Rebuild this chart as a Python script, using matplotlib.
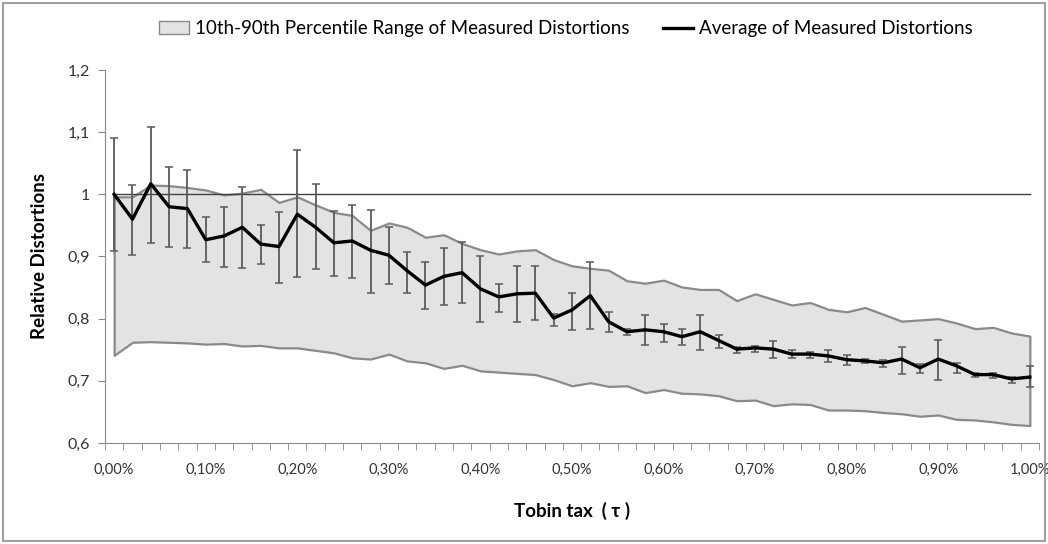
import numpy as np
import matplotlib.pyplot as plt
from matplotlib.patches import Patch, Rectangle
from matplotlib.lines import Line2D

plt.rcParams['font.family'] = ['Lato', 'DejaVu Sans']

# Tobin tax levels in percent (categories 0,00% .. 1,00%)
tax = [i * 0.02 for i in range(51)]

# average of measured distortions
mean = [1.000, 0.960, 1.017, 0.980, 0.977, 0.927, 0.933, 0.947, 0.920, 0.916,
        0.968, 0.947, 0.922, 0.925, 0.910, 0.902, 0.877, 0.854, 0.868, 0.874,
        0.848, 0.835, 0.840, 0.841, 0.801, 0.814, 0.837, 0.795, 0.779, 0.782,
        0.779, 0.771, 0.779, 0.765, 0.751, 0.753, 0.751, 0.743, 0.743, 0.740,
        0.734, 0.732, 0.729, 0.735, 0.721, 0.735, 0.724, 0.710, 0.710, 0.703,
        0.706]

# error bar ends
err_hi = [1.091, 1.015, 1.109, 1.044, 1.039, 0.963, 0.980, 1.011, 0.950, 0.972,
          1.071, 1.016, 0.973, 0.983, 0.975, 0.947, 0.907, 0.891, 0.914, 0.923,
          0.901, 0.856, 0.884, 0.884, 0.808, 0.842, 0.891, 0.810, 0.784, 0.806,
          0.792, 0.784, 0.806, 0.774, 0.755, 0.756, 0.764, 0.749, 0.747, 0.750,
          0.741, 0.735, 0.733, 0.755, 0.727, 0.765, 0.729, 0.713, 0.713, 0.706,
          0.724]
err_lo = [0.909, 0.903, 0.922, 0.916, 0.913, 0.891, 0.883, 0.881, 0.888, 0.858,
          0.867, 0.880, 0.869, 0.865, 0.841, 0.855, 0.841, 0.815, 0.822, 0.825,
          0.794, 0.810, 0.794, 0.798, 0.788, 0.782, 0.783, 0.779, 0.773, 0.757,
          0.763, 0.757, 0.750, 0.753, 0.745, 0.747, 0.736, 0.736, 0.737, 0.730,
          0.726, 0.728, 0.723, 0.711, 0.712, 0.701, 0.713, 0.706, 0.704, 0.697,
          0.690]

# 90th and 10th percentiles
upper = [0.996, 0.996, 1.015, 1.014, 1.011, 1.007, 0.999, 1.002, 1.008, 0.987,
         0.996, 0.983, 0.971, 0.966, 0.942, 0.954, 0.947, 0.931, 0.935, 0.921,
         0.911, 0.904, 0.909, 0.911, 0.895, 0.885, 0.881, 0.878, 0.861, 0.857,
         0.862, 0.851, 0.847, 0.847, 0.829, 0.840, 0.831, 0.822, 0.826, 0.815,
         0.811, 0.818, 0.807, 0.796, 0.798, 0.800, 0.793, 0.784, 0.786, 0.777,
         0.772]
lower = [0.741, 0.762, 0.763, 0.762, 0.761, 0.759, 0.760, 0.756, 0.757, 0.753,
         0.753, 0.749, 0.745, 0.737, 0.735, 0.743, 0.732, 0.729, 0.720, 0.725,
         0.716, 0.714, 0.712, 0.710, 0.702, 0.692, 0.697, 0.691, 0.692, 0.681,
         0.686, 0.680, 0.679, 0.676, 0.668, 0.669, 0.660, 0.663, 0.662, 0.653,
         0.653, 0.652, 0.649, 0.647, 0.643, 0.645, 0.638, 0.637, 0.634, 0.630,
         0.628]

baseline = 1.0
x_labels = [f'{t:.2f}%'.replace('.', ',') for t in tax]
y_ticks = [0.6, 0.7, 0.8, 0.9, 1.0, 1.1, 1.2]
y_labels = ['0,6', '0,7', '0,8', '0,9', '1', '1,1', '1,2']

x = np.arange(len(tax))
mean = np.array(mean)

fig = plt.figure(figsize=(10.48, 5.44), dpi=100)
ax = fig.add_axes([0.1002, 0.1857, 0.8912, 0.6856])

band_fill = '#e3e3e3'
band_edge = '#8a8a8a'
ax.fill_between(x, lower, upper, facecolor=band_fill, edgecolor=band_edge,
                linewidth=1.6, zorder=1)
ax.plot(x, [baseline] * len(x), color='#404040', linewidth=1.0, zorder=2)
ax.errorbar(x, mean, yerr=[mean - np.array(err_lo), np.array(err_hi) - mean],
            fmt='none', ecolor='#5a5a5a', elinewidth=1.3, capsize=3.2,
            capthick=1.1, zorder=3)
ax.plot(x, mean, color='black', linewidth=2.4, zorder=4)

ax.set_xlim(-0.5, len(x) - 0.5)
ax.set_ylim(0.6, 1.2)
ax.set_yticks(y_ticks)
ax.set_yticklabels(y_labels, fontsize=11.5, color='#333333')
major = list(range(0, len(x), 5))
ax.set_xticks(major)
ax.set_xticklabels([x_labels[i] for i in major], fontsize=10.5, color='#333333')
ax.set_xticks(np.arange(-0.5, len(x), 1), minor=True)
ax.tick_params(axis='x', which='major', length=0, pad=14)
ax.tick_params(axis='x', which='minor', length=5, color='#888888')
ax.tick_params(axis='y', length=5, color='#888888', pad=6)

for side in ['top', 'right']:
    ax.spines[side].set_visible(False)
for side in ['left', 'bottom']:
    ax.spines[side].set_color('#888888')

ax.set_xlabel('Tobin tax  ( τ )', fontsize=13.5, fontweight='bold', labelpad=18)
ax.set_ylabel('Relative Distortions', fontsize=13.5, fontweight='bold', labelpad=14)

handles = [Patch(facecolor=band_fill, edgecolor=band_edge, linewidth=1.0),
           Line2D([0], [0], color='black', linewidth=2.4)]
fig.legend(handles, ['10th-90th Percentile Range of Measured Distortions',
                     'Average of Measured Distortions'],
           loc='center', bbox_to_anchor=(0.54, 0.947), ncol=2, frameon=False,
           fontsize=13.5, handlelength=1.6, handletextpad=0.3, columnspacing=1.8)

# chart area border
fig.patches.append(Rectangle((0.003, 0.005), 0.994, 0.99, transform=fig.transFigure,
                             fill=False, edgecolor='#8a8a8a', linewidth=1.2))

fig.savefig('out.png', dpi=100)
